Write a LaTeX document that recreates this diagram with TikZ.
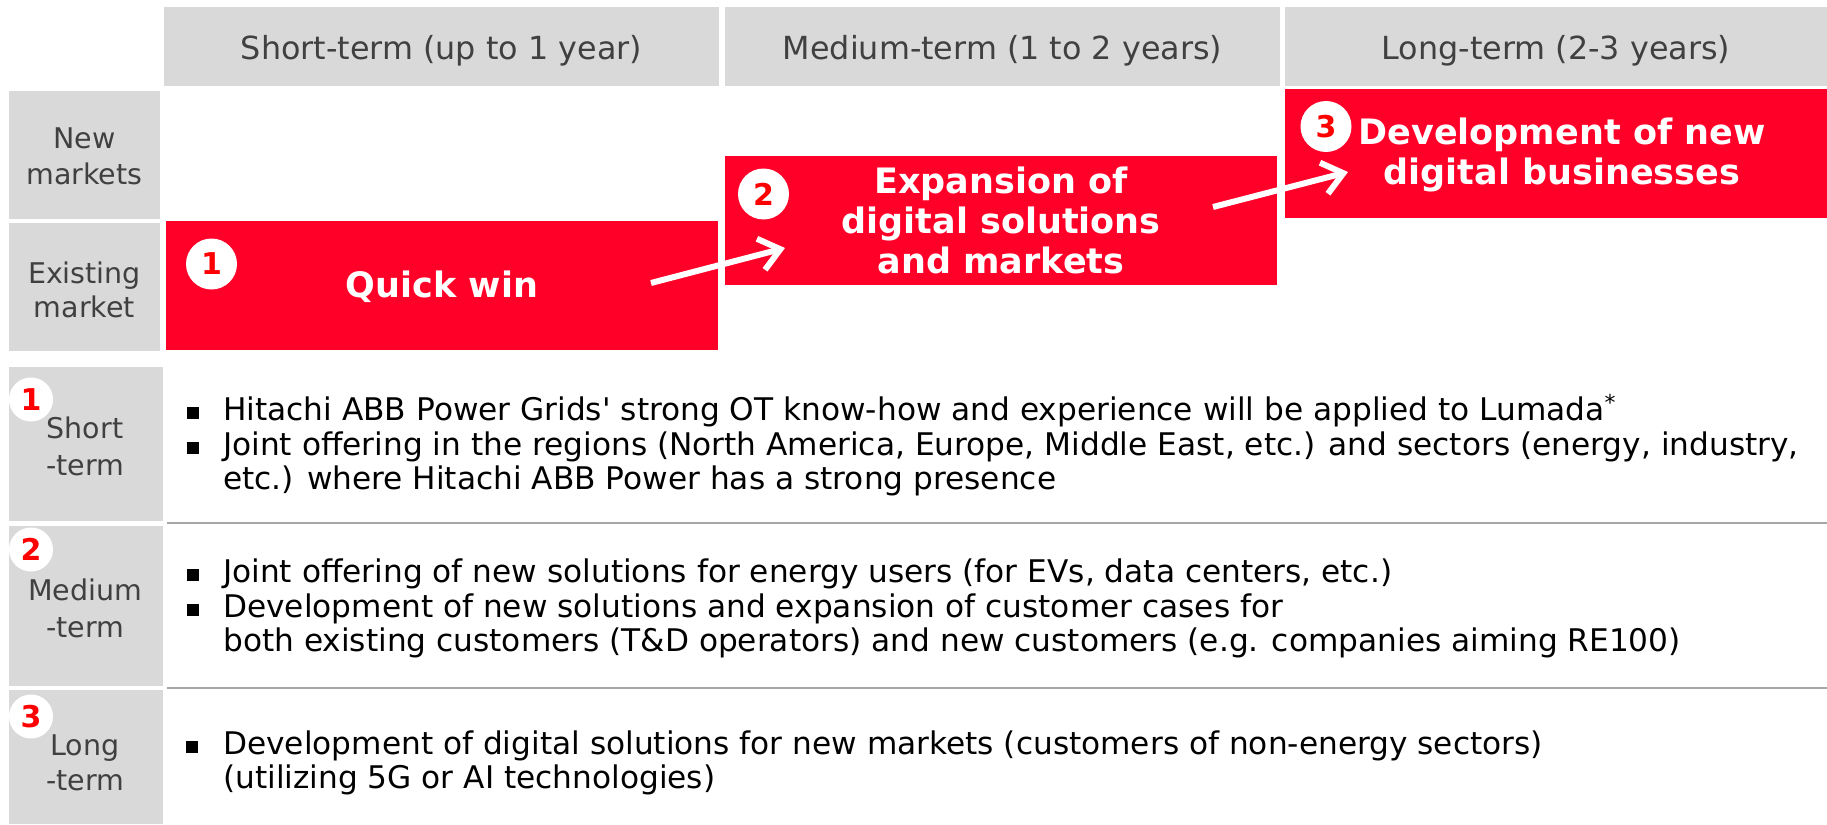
\documentclass[tikz,border=0pt]{standalone}
\usepackage{fontspec}
\setmainfont{DejaVu Sans}
\usetikzlibrary{arrows.meta}
\definecolor{hred}{RGB}{255,0,40}
\definecolor{cellgray}{RGB}{217,217,217}
\definecolor{labtext}{RGB}{64,64,64}
\definecolor{sepgray}{RGB}{166,166,166}
\definecolor{digred}{RGB}{255,0,0}
\begin{document}
\begin{tikzpicture}[x=1pt,y=-1pt,
  cell/.style={fill=cellgray, draw=none, inner sep=0pt},
  redbox/.style={fill=hred, draw=none, inner sep=0pt},
  headtext/.style={text=labtext, font=\fontsize{31.8}{36}\selectfont},
  labtxt/.style={text=labtext, font=\fontsize{28.5}{36}\selectfont, anchor=base, inner sep=0pt},
  boldtxt/.style={text=white, font=\bfseries\fontsize{35}{40}\selectfont, align=center, inner sep=0pt},
  numbig/.style={circle, fill=white, minimum size=51pt, inner sep=0pt, text=digred, font=\bfseries\fontsize{30}{30}\selectfont},
  numsmall/.style={circle, fill=white, minimum size=44pt, inner sep=0pt, text=digred, font=\bfseries\fontsize{30}{30}\selectfont},
  bodytxt/.style={text=black, font=\fontsize{31.2}{34}\selectfont, anchor=base west, inner sep=0pt},
  bul/.style={fill=black, minimum size=12pt, inner sep=0pt},
  bigarrow/.style={draw=white, line width=6pt, -{Straight Barb[length=20pt,width=32pt,line width=6pt]}},
  sepline/.style={draw=sepgray, line width=2pt}
]
\useasboundingbox (0,0) rectangle (1827,824);

% headers
\node[cell, minimum width=555pt, minimum height=79pt] (h1) at (441.5,46.5) {};
\node[cell, minimum width=555pt, minimum height=79pt] (h2) at (1002.5,46.5) {};
\node[cell, minimum width=542pt, minimum height=79pt] (h3) at (1556,46.5) {};
\node[headtext] (h1t) at (441.5,50.5) {Short-term (up to 1 year)};
\node[headtext] (h2t) at (1002.5,50.5) {Medium-term (1 to 2 years)};
\node[headtext] (h3t) at (1556,50.5) {Long-term (2-3 years)};

% row labels top
\node[cell, minimum width=151pt, minimum height=128pt] (lnew) at (84.5,155) {};
\node[cell, minimum width=151pt, minimum height=128pt] (lexist) at (84.5,287) {};
\node[labtxt] (lnew1) at (84.5,148) {New};
\node[labtxt] (lnew2) at (84.5,184) {markets};
\node[labtxt] (lex1) at (84.5,283) {Existing};
\node[labtxt] (lex2) at (84.5,317) {market};

% red boxes
\node[redbox, minimum width=552pt, minimum height=129pt] (r1) at (442,285.5) {};
\node[redbox, minimum width=552pt, minimum height=129pt] (r2) at (1001,220.5) {};
\node[redbox, minimum width=542pt, minimum height=129pt] (r3) at (1556,153.5) {};
\node[boldtxt] (r1t) at (442,287) {Quick win};
\node[boldtxt] (r2t) at (1001,220) {Expansion of\\digital solutions\\and markets};
\node[boldtxt] (r3t) at (1562,155) {Development of new\\digital businesses};
\node[numbig] (n1) at (211.5,264) {1};
\node[numbig] (n2) at (763.5,194) {2};
\node[numbig] (n3) at (1326,126.5) {3};

% arrows
\coordinate (a1s) at (651,283);
\coordinate (a1e) at (785,248);
\coordinate (a2s) at (1213,207);
\coordinate (a2e) at (1348,172);
\draw[bigarrow] (a1s) -- (a1e);
\draw[bigarrow] (a2s) -- (a2e);

% bottom labels
\node[cell, minimum width=154pt, minimum height=154pt] (ls) at (86,444) {};
\node[cell, minimum width=154pt, minimum height=160pt] (lm) at (86,606) {};
\node[cell, minimum width=154pt, minimum height=134pt] (ll) at (86,757) {};
\node[numsmall] (c1) at (31,399.5) {1};
\node[numsmall] (c2) at (31,549.5) {2};
\node[numsmall] (c3) at (31,716.5) {3};
\node[labtxt] (ls1) at (85,438) {Short};
\node[labtxt] (ls2) at (85,475) {-term};
\node[labtxt] (lm1) at (85,600) {Medium};
\node[labtxt] (lm2) at (85,637) {-term};
\node[labtxt] (ll1) at (85,755) {Long};
\node[labtxt] (ll2) at (85,790) {-term};

% separators
\coordinate (s1a) at (167,523);
\coordinate (s1b) at (1827,523);
\coordinate (s2a) at (167,688);
\coordinate (s2b) at (1827,688);
\draw[sepline] (s1a) -- (s1b);
\draw[sepline] (s2a) -- (s2b);

% bullets and text
\node[bul] (b1) at (193,413) {};
\node[bul] (b2) at (193,448) {};
\node[bul] (b3) at (193,575) {};
\node[bul] (b4) at (193,610) {};
\node[bul] (b5) at (192,747) {};
\node[bodytxt] (t1) at (223,420) {Hitachi ABB Power Grids\textquotesingle{} strong OT know-how and experience will be applied to Lumada\textsuperscript{*}};
\node[bodytxt] (t2) at (223,455) {Joint offering in the regions (North America, Europe, Middle East, etc.) and sectors (energy, industry,};
\node[bodytxt] (t3) at (223,489) {etc.) where Hitachi ABB Power has a strong presence};
\node[bodytxt] (t4) at (223,582) {Joint offering of new solutions for energy users (for EVs, data centers, etc.)};
\node[bodytxt] (t5) at (223,617) {Development of new solutions and expansion of customer cases for};
\node[bodytxt] (t6) at (223,651) {both existing customers (T\&D operators) and new customers (e.g. companies aiming RE100)};
\node[bodytxt] (t7) at (223,754) {Development of digital solutions for new markets (customers of non-energy sectors)};
\node[bodytxt] (t8) at (223,788) {(utilizing 5G or AI technologies)};
\end{tikzpicture}
\end{document}
